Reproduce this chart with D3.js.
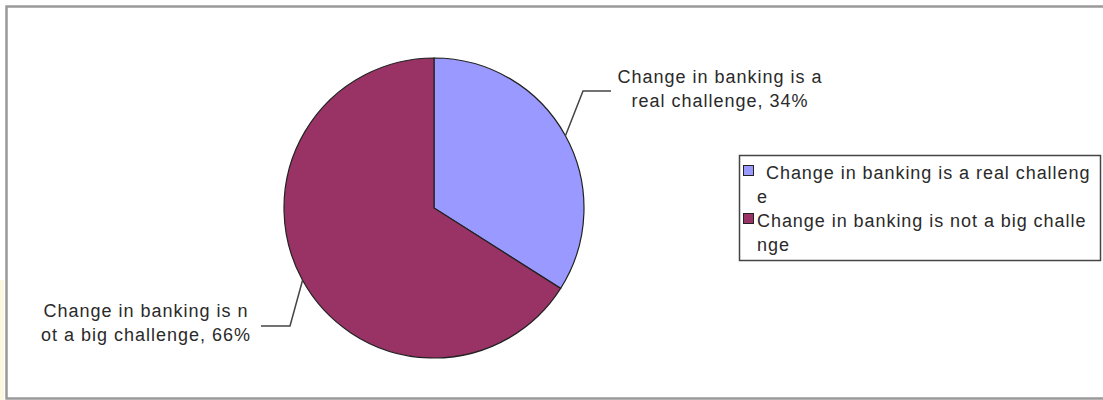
<!DOCTYPE html>
<html>
<head>
<meta charset="utf-8">
<script src="https://cdn.jsdelivr.net/npm/d3@7"></script>
<style>
  html, body { margin: 0; padding: 0; background: #fff; }
  svg { display: block; }
  text { font-family: "Liberation Sans", Arial, sans-serif; fill: #2a2a2a; }
</style>
</head>
<body>
<svg id="chart" width="1103" height="400"></svg>
<script>
// Survey answers and their shares (percent)
const categories = [
  "Change in banking is a real challenge",
  "Change in banking is not a big challenge"
];
const values = [34, 66];
const colors = ["#9999ff", "#993366"];
// Data labels, wrapped as in the chart
const sliceLabels = [
  ["Change in banking is a", "real challenge, 34%"],
  ["Change in banking is n", "ot a big challenge, 66%"]
];
// Legend entries, wrapped across two lines
const legendLines = [
  ["Change in banking is a real challeng", "e"],
  ["Change in banking is not a big challe", "nge"]
];

const svg = d3.select("#chart");
const W = 1103, H = 400;

// faint edge strip at the lower left
svg.append("rect").attr("x", 0).attr("y", 280).attr("width", 4).attr("height", 120)
  .attr("fill", "#fcf8e0");

// chart frame
svg.append("rect")
  .attr("x", 6.5).attr("y", 6.5).attr("width", W + 10).attr("height", 392)
  .attr("fill", "#fff").attr("stroke", "#999").attr("stroke-width", 2.5);

const cx = 434, cy = 208, r = 150;
const pie = d3.pie().sort(null).value(d => d)(values);
const arc = d3.arc().innerRadius(0).outerRadius(r);

const g = svg.append("g").attr("transform", `translate(${cx},${cy})`);
g.selectAll("path").data(pie).join("path")
  .attr("d", arc)
  .attr("fill", (d, i) => colors[i])
  .attr("stroke", "#222").attr("stroke-width", 1.2);

// leader lines from each slice's mid-angle on the rim, then labels
const leaders = [
  { elbow: [583, 91], end: [611, 91], tx: 720, ty: 83 },
  { elbow: [290, 326], end: [261, 326], tx: 146, ty: 317 }
];
pie.forEach((d, i) => {
  const L = leaders[i];
  const a = (d.startAngle + d.endAngle) / 2;
  const p = [cx + Math.sin(a) * r, cy - Math.cos(a) * r];
  svg.append("polyline")
    .attr("points", [p, L.elbow, L.end].map(q => q.join(",")).join(" "))
    .attr("fill", "none").attr("stroke", "#444").attr("stroke-width", 1.5);
  const t = svg.append("text")
    .attr("x", L.tx).attr("y", L.ty)
    .attr("text-anchor", "middle")
    .attr("font-size", 18)
    .attr("letter-spacing", 1.0);
  sliceLabels[i].forEach((line, j) => {
    t.append("tspan").attr("x", L.tx).attr("dy", j === 0 ? 0 : 24).text(line);
  });
});

// legend
const lg = svg.append("g");
lg.append("rect")
  .attr("x", 739.5).attr("y", 155.5).attr("width", 361).attr("height", 105)
  .attr("fill", "#fff").attr("stroke", "#444").attr("stroke-width", 1.5);
categories.forEach((c, i) => {
  const y0 = 179 + i * 48;
  lg.append("rect")
    .attr("x", 743.5).attr("y", y0 - 13.5).attr("width", 10).attr("height", 10)
    .attr("fill", colors[i]).attr("stroke", "#222").attr("stroke-width", 1);
  const t = lg.append("text").attr("font-size", 18).attr("letter-spacing", 0.95).attr("y", y0);
  legendLines[i].forEach((line, j) => {
    t.append("tspan").attr("x", j === 0 ? (i === 0 ? 766 : 757) : 757)
      .attr("dy", j === 0 ? 0 : 24).text(line);
  });
});
</script>
</body>
</html>
